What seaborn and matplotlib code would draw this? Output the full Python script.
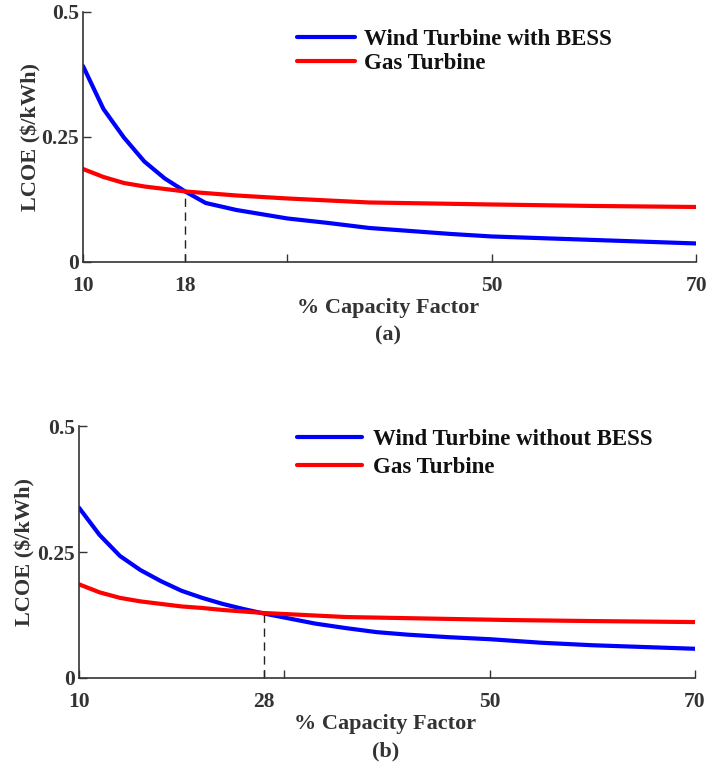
import numpy as np
import pandas as pd
import matplotlib
matplotlib.use('Agg')
import matplotlib.pyplot as plt
import seaborn as sns

sns.set_style('ticks')
plt.rcParams['font.family'] = ['Liberation Serif', 'DejaVu Serif']
plt.rcParams['font.weight'] = 'bold'

# (a) 풍력 + BESS vs 가스터빈
cf_wind_a = [10, 12, 14, 16, 18, 20, 22, 25, 30, 34, 38, 42, 46, 50, 60, 70]
lcoe_wind_a = [0.392, 0.306, 0.249, 0.201, 0.167, 0.141, 0.118, 0.104, 0.087,
               0.078, 0.068, 0.062, 0.056, 0.051, 0.044, 0.037]
cf_gas_a = [10, 12, 14, 16, 18, 20, 25, 30, 38, 50, 60, 70]
lcoe_gas_a = [0.186, 0.170, 0.158, 0.151, 0.146, 0.141, 0.133, 0.127, 0.119,
              0.115, 0.112, 0.110]

# (b) 풍력 (BESS 없음) vs 가스터빈
cf_wind_b = [10, 12, 14, 16, 18, 20, 22, 24, 26, 28, 30, 33, 36, 39, 42, 46,
             50, 55, 60, 70]
lcoe_wind_b = [0.338, 0.284, 0.242, 0.214, 0.192, 0.173, 0.159, 0.147, 0.137,
               0.128, 0.120, 0.108, 0.099, 0.091, 0.086, 0.081, 0.077, 0.070,
               0.065, 0.058]
cf_gas_b = [10, 12, 14, 16, 18, 20, 22, 24, 28, 32, 36, 44, 52, 60, 70]
lcoe_gas_b = [0.186, 0.170, 0.159, 0.152, 0.147, 0.142, 0.139, 0.135, 0.129,
              0.125, 0.121, 0.118, 0.115, 0.113, 0.111]

# 교차점 (점선)
cross_a = (20, 0.141)
cross_b = (28, 0.129)

xticks_a = [10, 20, 30, 50, 70]
xticklabels_a = ['10', '18', '', '50', '70']
xticks_b = [10, 28, 30, 50, 70]
xticklabels_b = ['10', '28', '', '50', '70']
yticks = [0, 0.25, 0.5]
yticklabels = ['0', '0.25', '0.5']

names_a = ['Wind Turbine with BESS', 'Gas Turbine']
names_b = ['Wind Turbine without BESS', 'Gas Turbine']


def make_df(cf_w, lc_w, cf_g, lc_g, names):
    df_w = pd.DataFrame({'cf': cf_w, 'lcoe': lc_w, 'series': names[0]})
    df_g = pd.DataFrame({'cf': cf_g, 'lcoe': lc_g, 'series': names[1]})
    return pd.concat([df_w, df_g], ignore_index=True)


def draw_panel(ax, df, names, cross, xticks, xticklabels, tag, leg_anchor,
               handlelength, handletextpad, labelspacing, ylab_x, xlab_y):
    sns.lineplot(data=df, x='cf', y='lcoe', hue='series', hue_order=names,
                 palette={names[0]: '#0000ff', names[1]: '#ff0000'},
                 linewidth=3, ax=ax, sort=False, estimator=None)
    ax.plot([cross[0], cross[0]], [0, cross[1]], color='#222222',
            linestyle=(0, (6, 4)), linewidth=1.0, zorder=1)

    ax.set_xlim(10, 70)
    ax.set_ylim(0, 0.5)
    ax.set_xticks(xticks)
    ax.set_xticklabels(xticklabels)
    ax.set_yticks(yticks)
    ax.set_yticklabels(yticklabels)
    ax.tick_params(axis='x', direction='in', length=6, width=1, pad=10,
                   labelsize=15.5, colors='#333333')
    ax.tick_params(axis='y', direction='in', length=6, width=1, pad=3,
                   labelsize=15.5, colors='#333333')
    for t in ax.get_xticklabels() + ax.get_yticklabels():
        t.set_fontweight('bold')
    sns.despine(ax=ax)
    for s in ['left', 'bottom']:
        ax.spines[s].set_color('#333333')
        ax.spines[s].set_linewidth(1.2)

    ax.set_ylabel('LCOE ($/kWh)', fontsize=16, fontweight='bold', color='#333333')
    ax.yaxis.set_label_coords(ylab_x, 0.5)
    ax.set_xlabel('% Capacity Factor\n' + tag, fontsize=16, fontweight='bold',
                  color='#333333', linespacing=1.5)
    ax.xaxis.set_label_coords(0.497, xlab_y)

    leg = ax.legend(loc='upper left', bbox_to_anchor=leg_anchor, frameon=False,
                    fontsize=16.5, handlelength=handlelength,
                    handletextpad=handletextpad, labelspacing=labelspacing,
                    borderpad=0, borderaxespad=0)
    for t in leg.get_texts():
        t.set_fontweight('bold')
        t.set_color('#111111')
    for l in leg.get_lines():
        l.set_linewidth(3)


fig = plt.figure(figsize=(7.13, 7.68), dpi=100)
ax1 = fig.add_axes([0.1164, 0.6589, 0.860, 0.3255])
ax2 = fig.add_axes([0.1108, 0.1172, 0.864, 0.328])

draw_panel(ax1, make_df(cf_wind_a, lcoe_wind_a, cf_gas_a, lcoe_gas_a, names_a),
           names_a, cross_a, xticks_a, xticklabels_a, '(a)', (0.349, 0.934),
           2.53, 0.4, 0.16, -0.068, -0.146)
draw_panel(ax2, make_df(cf_wind_b, lcoe_wind_b, cf_gas_b, lcoe_gas_b, names_b),
           names_b, cross_b, xticks_b, xticklabels_b, '(b)', (0.354, 0.989),
           2.84, 0.48, 0.3, -0.071, -0.142)

fig.savefig('out.png', dpi=100)
